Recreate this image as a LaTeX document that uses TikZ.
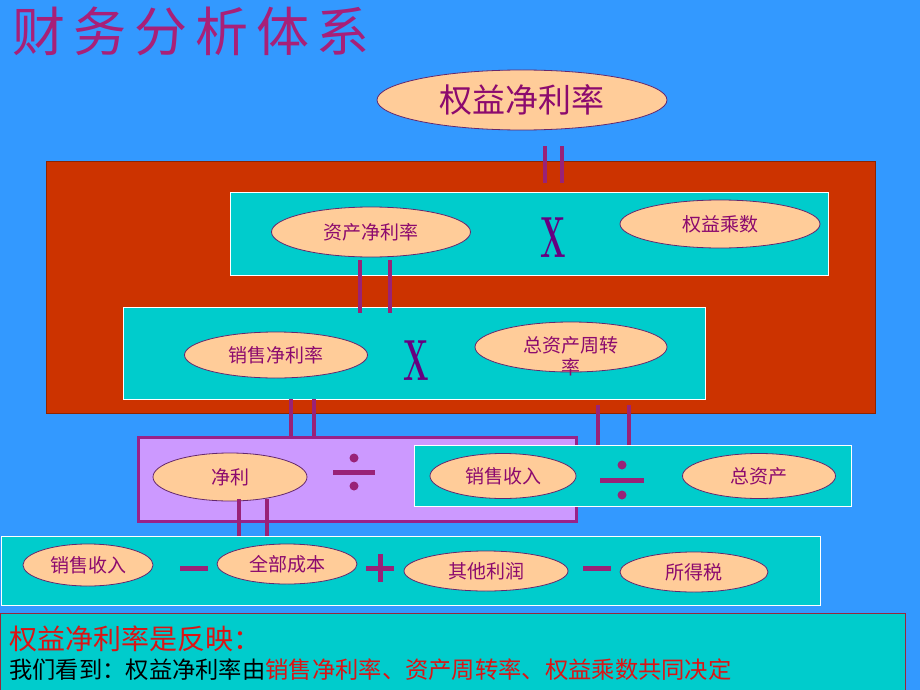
\documentclass[tikz,border=0pt]{standalone}
\usepackage{fontspec}
\usetikzlibrary{shapes.geometric}
\newfontfamily\cjk{Noto Sans CJK SC}
\newfontfamily\cjkwide[LetterSpace=15]{Noto Sans CJK SC}
\definecolor{bgblue}{RGB}{51,153,255}
\definecolor{titlec}{RGB}{168,32,120}
\definecolor{framered}{RGB}{204,51,0}
\definecolor{cyanbox}{RGB}{0,204,204}
\definecolor{lilac}{RGB}{204,153,255}
\definecolor{lilacline}{RGB}{153,34,136}
\definecolor{peach}{RGB}{255,204,153}
\definecolor{ellline}{RGB}{100,40,110}
\definecolor{etxt}{RGB}{140,10,110}
\definecolor{linkc}{RGB}{153,34,119}
\definecolor{xcol}{RGB}{102,0,128}
\definecolor{notered}{RGB}{220,20,20}
\definecolor{noteline}{RGB}{150,40,60}
\tikzset{
  ell/.style={ellipse, draw=ellline, line width=0.8pt, fill=peach, inner sep=0pt,
    text=etxt, font=\cjk\fontsize{19}{19}\selectfont},
  panel/.style={rectangle, draw=white, line width=0.8pt, fill=cyanbox, inner sep=0pt},
  link/.style={draw=linkc, line width=3.5pt},
  signline/.style={draw=linkc, line width=5pt},
  timesx/.style={text=xcol, font=\bfseries\fontsize{58}{58}\selectfont, xscale=0.52, inner sep=0pt},
}
\begin{document}
\begin{tikzpicture}[x=1pt,y=-1pt]
\fill[bgblue] (0,0) rectangle (920,690);
\useasboundingbox (0,0) rectangle (920,690);

% title
\node[anchor=west, text=titlec, font=\cjkwide\fontsize{53}{53}\selectfont, inner sep=0pt] (title) at (12,31) {财务分析体系};

% top ellipse
\node[ell, minimum width=290pt, minimum height=60pt, font=\cjk\fontsize{33}{33}\selectfont] (roe) at (522,100) {权益净利率};

% red frame
\node[rectangle, draw=framered!70!black, line width=0.6pt, fill=framered, minimum width=829pt, minimum height=252pt, inner sep=0pt] (frame) at (460.5,287) {};

% box 1
\node[panel, minimum width=598pt, minimum height=83pt] (box1) at (529,233.5) {};
\node[ell, minimum width=199pt, minimum height=50pt] (zc) at (371,232) {资产净利率};
\node[timesx] (x1) at (553,238) {X};
\node[ell, minimum width=200pt, minimum height=48pt] (qy) at (720,224) {权益乘数};

% box 2
\node[panel, minimum width=582pt, minimum height=92pt] (box2) at (414,353) {};
\node[ell, minimum width=183pt, minimum height=46pt] (xs) at (276,355) {销售净利率};
\node[timesx] (x2) at (416,361) {X};
\node[ell, minimum width=192pt, minimum height=50pt] (zzc) at (571,347) {};
\node[text=etxt, font=\cjk\fontsize{19}{22}\selectfont, align=center, inner sep=0pt] (zzct) at (571,356) {总资产周转\\率};

% links between upper levels
\coordinate (a1) at (545,146); \coordinate (a2) at (545,183);
\coordinate (b1) at (562,146); \coordinate (b2) at (562,183);
\draw[link] (a1) -- (a2);
\draw[link] (b1) -- (b2);
\coordinate (c1) at (360,260); \coordinate (c2) at (360,313);
\coordinate (d1) at (390,260); \coordinate (d2) at (390,313);
\draw[link] (c1) -- (c2);
\draw[link] (d1) -- (d2);
\coordinate (e1) at (291,399); \coordinate (e2) at (291,438);
\coordinate (f1) at (314,399); \coordinate (f2) at (314,438);
\draw[link] (e1) -- (e2);
\draw[link] (f1) -- (f2);
\coordinate (g1) at (598,405); \coordinate (g2) at (598,445);
\coordinate (h1) at (629,405); \coordinate (h2) at (629,445);
\draw[link] (g1) -- (g2);
\draw[link] (h1) -- (h2);

% purple box
\node[rectangle, draw=lilacline, line width=3pt, fill=lilac, minimum width=438pt, minimum height=84pt, inner sep=0pt] (pbox) at (357,479) {};
\node[ell, minimum width=154pt, minimum height=48pt] (jl) at (230,477) {净利};
\coordinate (dv1) at (354,472);
\draw[signline] ([xshift=-21pt]dv1) -- ([xshift=21pt]dv1);
\fill[linkc] ([yshift=-14pt]dv1) circle (4.5pt);
\fill[linkc] ([yshift=14pt]dv1) circle (4.5pt);

% box 3
\node[panel, minimum width=437pt, minimum height=61pt] (box3) at (632.5,475.5) {};
\node[ell, minimum width=146pt, minimum height=45pt] (xssr) at (503,476) {销售收入};
\coordinate (dv2) at (622,480);
\draw[signline] ([xshift=-22pt]dv2) -- ([xshift=22pt]dv2);
\fill[linkc] ([yshift=-15pt]dv2) circle (4.5pt);
\fill[linkc] ([yshift=15pt]dv2) circle (4.5pt);
\node[ell, minimum width=153pt, minimum height=45pt] (zzc2) at (759,476) {总资产};

% links from 净利
\coordinate (i1) at (239,499); \coordinate (i2) at (239,537);
\coordinate (j1) at (267,499); \coordinate (j2) at (267,537);
\draw[link] (i1) -- (i2);
\draw[link] (j1) -- (j2);

% box 4
\node[panel, minimum width=819pt, minimum height=69pt] (box4) at (410.5,570.5) {};
\node[ell, minimum width=130pt, minimum height=42pt] (sr) at (88,565) {销售收入};
\coordinate (m1) at (194,568);
\draw[signline] ([xshift=-14pt]m1) -- ([xshift=14pt]m1);
\node[ell, minimum width=140pt, minimum height=40pt] (cb) at (287,564) {全部成本};
\coordinate (p1) at (380,568);
\draw[signline] ([xshift=-14pt]p1) -- ([xshift=14pt]p1);
\draw[signline] ([yshift=-14pt]p1) -- ([yshift=14pt]p1);
\node[ell, minimum width=164pt, minimum height=40pt] (qt) at (486,571) {其他利润};
\coordinate (m2) at (597,568);
\draw[signline] ([xshift=-14pt]m2) -- ([xshift=14pt]m2);
\node[ell, minimum width=148pt, minimum height=40pt] (sds) at (694,572) {所得税};

% note box
\node[rectangle, draw=noteline, line width=0.8pt, fill=cyanbox, minimum width=905pt, minimum height=80pt, inner sep=0pt] (note) at (452.5,653) {};
\node[anchor=west, inner sep=0pt, text=notered, font=\cjk\fontsize{28}{28}\selectfont] (n1) at (9,639) {权益净利率是反映：};
\node[anchor=west, inner sep=0pt, text=black, font=\cjk\fontsize{23.3}{23.3}\selectfont] (n2) at (9,670) {我们看到：权益净利率由\textcolor{notered}{销售净利率、资产周转率、权益乘数共同决定}};
\end{tikzpicture}
\end{document}
